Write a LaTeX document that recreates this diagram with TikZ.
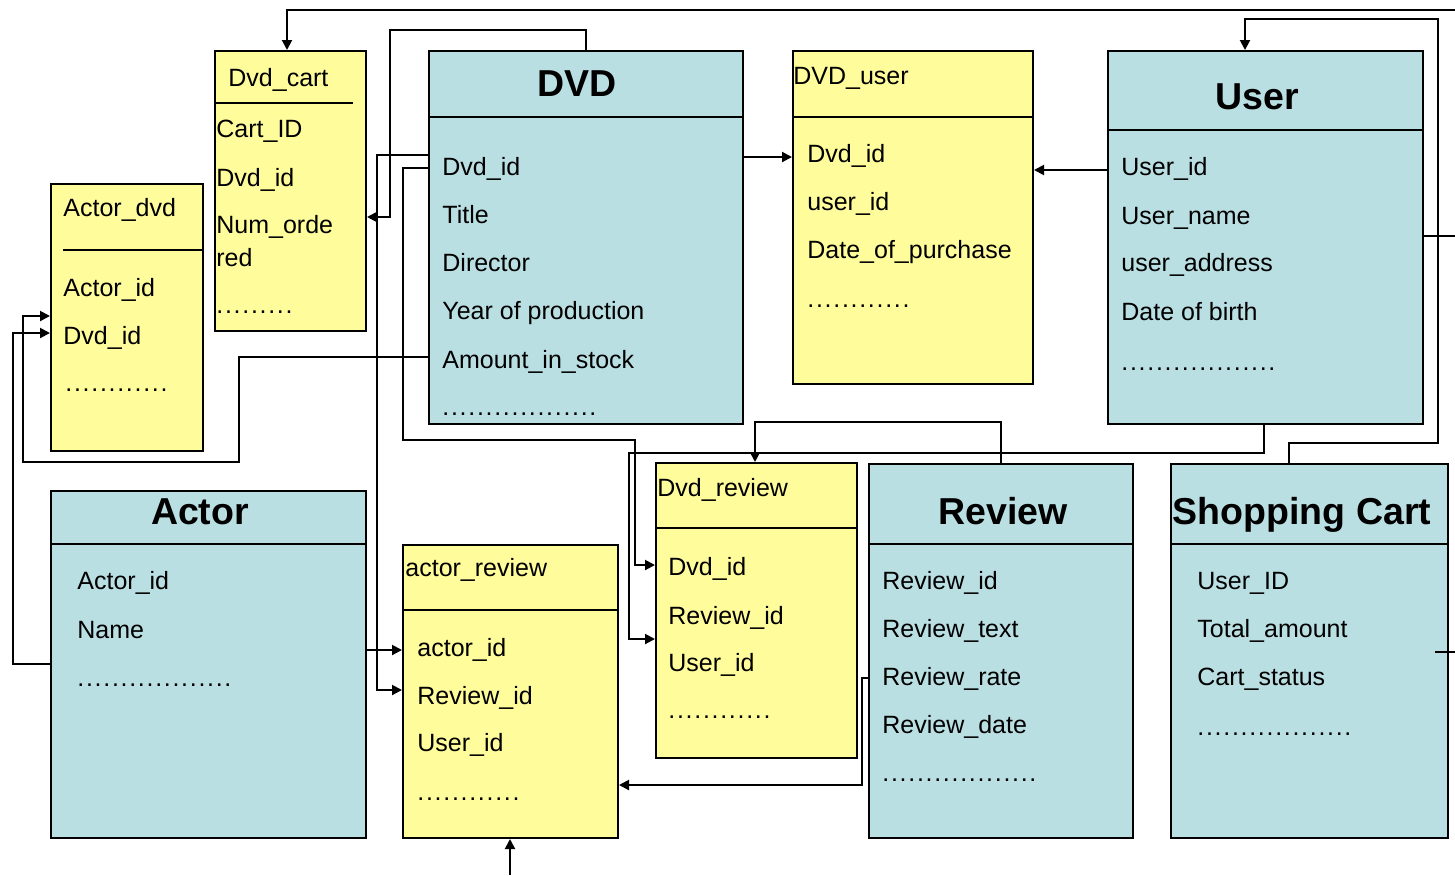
\documentclass[tikz,border=0pt]{standalone}
\usepackage{fontspec}
\setmainfont{Liberation Sans}
\usetikzlibrary{arrows.meta}
\definecolor{tabblue}{RGB}{186,223,227}
\definecolor{tabyellow}{RGB}{255,253,155}
\newcommand{\mydots}[1]{\foreach \i in {1,...,#1}{.\kern0.85pt}} % строка точек

\begin{document}
\begin{tikzpicture}[x=0.5pt,y=-0.5pt] % 1 единица = 1 пиксель, ось y вниз
\tikzstyle{mytab} = [draw, line width=1pt, anchor=north west, inner sep=0pt] % рамка таблицы
\tikzstyle{mytitle} = [anchor=base, inner sep=0pt, font=\fontsize{18.75}{20}\selectfont\bfseries] % жирный заголовок
\tikzstyle{myrow} = [anchor=base west, inner sep=0pt, font=\fontsize{12.5}{14}\selectfont] % поле таблицы
\tikzstyle{myline} = [line width=1pt] % header divider
\tikzstyle{mylink} = [line width=1pt, -{Triangle[length=5pt,width=5pt]}] % связь со стрелкой
\useasboundingbox[fill=white] (0,0) rectangle (1455,875);

% Actor_dvd
\node[mytab, fill=tabyellow, minimum width=76pt, minimum height=133.5pt] (actdvd) at (50,183) {};
\draw[myline] (63,250) -- (actdvd.east |- 0,250);
\node[myrow] (actdvdT) at (63,216) {Actor\_dvd};
\node[myrow] (actdvd1) at (63,296) {Actor\_id};
\node[myrow] (actdvd2) at (63,344) {Dvd\_id};
\node[myrow] (actdvd3) at (65,391) {\mydots{12}};

% Dvd_cart
\node[mytab, fill=tabyellow, minimum width=75.5pt, minimum height=140pt] (dvdcart) at (214,50) {};
\draw[myline] (dvdcart.west |- 0,103) -- (353,103);
\node[myrow] (dvdcartT) at (228,86) {Dvd\_cart};
\node[myrow] (dvdcart1) at (216,137) {Cart\_ID};
\node[myrow] (dvdcart2) at (216,186) {Dvd\_id};
\node[myrow] (dvdcart3) at (216,233) {Num\_orde};
\node[myrow] (dvdcart4) at (216,266) {red};
\node[myrow] (dvdcart5) at (216,313) {\mydots{9}};

% DVD
\node[mytab, fill=tabblue, minimum width=157pt, minimum height=186.5pt] (dvd) at (428,50) {};
\draw[myline] (dvd.west |- 0,117) -- (dvd.east |- 0,117);
\node[mytitle] (dvdT) at (577,96) {DVD};
\node[myrow] (dvd1) at (442,175) {Dvd\_id};
\node[myrow] (dvd2) at (442,223) {Title};
\node[myrow] (dvd3) at (442,271) {Director};
\node[myrow] (dvd4) at (442,319) {Year of production};
\node[myrow] (dvd5) at (442,368) {Amount\_in\_stock};
\node[myrow] (dvd6) at (442,415) {\mydots{18}};

% DVD_user
\node[mytab, fill=tabyellow, minimum width=120pt, minimum height=166.5pt] (dvduser) at (792,50) {};
\draw[myline] (dvduser.west |- 0,117) -- (dvduser.east |- 0,117);
\node[myrow] (dvduserT) at (793,84) {DVD\_user};
\node[myrow] (dvduser1) at (807,162) {Dvd\_id};
\node[myrow] (dvduser2) at (807,210) {user\_id};
\node[myrow] (dvduser3) at (807,258) {Date\_of\_purchase};
\node[myrow] (dvduser4) at (807,307) {\mydots{12}};

% User
\node[mytab, fill=tabblue, minimum width=157.5pt, minimum height=186.5pt] (user) at (1107,50) {};
\draw[myline] (user.west |- 0,130) -- (user.east |- 0,130);
\node[mytitle] (userT) at (1257,109) {User};
\node[myrow] (user1) at (1121,175) {User\_id};
\node[myrow] (user2) at (1121,224) {User\_name};
\node[myrow] (user3) at (1121,271) {user\_address};
\node[myrow] (user4) at (1121,320) {Date of birth};
\node[myrow] (user5) at (1121,370) {\mydots{18}};

% Actor
\node[mytab, fill=tabblue, minimum width=157.5pt, minimum height=173.5pt] (actor) at (50,490) {};
\draw[myline] (actor.west |- 0,544) -- (actor.east |- 0,544);
\node[mytitle] (actorT) at (200,524) {Actor};
\node[myrow] (actor1) at (77,589) {Actor\_id};
\node[myrow] (actor2) at (77,638) {Name};
\node[myrow] (actor3) at (77,686) {\mydots{18}};

% actor_review
\node[mytab, fill=tabyellow, minimum width=107.5pt, minimum height=146.5pt] (actrev) at (402,544) {};
\draw[myline] (actrev.west |- 0,610) -- (actrev.east |- 0,610);
\node[myrow] (actrevT) at (405,576) {actor\_review};
\node[myrow] (actrev1) at (417,656) {actor\_id};
\node[myrow] (actrev2) at (417,704) {Review\_id};
\node[myrow] (actrev3) at (417,751) {User\_id};
\node[myrow] (actrev4) at (417,800) {\mydots{12}};

% Dvd_review
\node[mytab, fill=tabyellow, minimum width=100.5pt, minimum height=147.5pt] (dvdrev) at (655,462) {};
\draw[myline] (dvdrev.west |- 0,528) -- (dvdrev.east |- 0,528);
\node[myrow] (dvdrevT) at (657,496) {Dvd\_review};
\node[myrow] (dvdrev1) at (668,575) {Dvd\_id};
\node[myrow] (dvdrev2) at (668,624) {Review\_id};
\node[myrow] (dvdrev3) at (668,671) {User\_id};
\node[myrow] (dvdrev4) at (668,718) {\mydots{12}};

% Review
\node[mytab, fill=tabblue, minimum width=132pt, minimum height=187pt] (review) at (868,463) {};
\draw[myline] (review.west |- 0,544) -- (review.east |- 0,544);
\node[mytitle] (reviewT) at (1003,524) {Review};
\node[myrow] (review1) at (882,589) {Review\_id};
\node[myrow] (review2) at (882,637) {Review\_text};
\node[myrow] (review3) at (882,685) {Review\_rate};
\node[myrow] (review4) at (882,733) {Review\_date};
\node[myrow] (review5) at (882,781) {\mydots{18}};

% Shopping Cart
\node[mytab, fill=tabblue, minimum width=138.5pt, minimum height=187pt] (shop) at (1170,463) {};
\draw[myline] (shop.west |- 0,544) -- (shop.east |- 0,544);
\node[mytitle] (shopT) at (1302,524) {Shopping Cart};
\node[myrow] (shop1) at (1197,589) {User\_ID};
\node[myrow] (shop2) at (1197,637) {Total\_amount};
\node[myrow] (shop3) at (1197,685) {Cart\_status};
\node[myrow] (shop4) at (1197,735) {\mydots{18}};

% свободные концы у края рисунка
\coordinate (edgeTop) at (1455,10);
\coordinate (edgeUser) at (1455,236);
\coordinate (edgeShop) at (1455,652);
\coordinate (edgeBot) at (510,875);

% связи
\draw[mylink] (edgeTop) -| (dvdcart.north -| 287,0);
\draw[mylink] (dvd.north) |- (390,30) |- (dvdcart.east |- 0,217);
\draw[mylink] (dvd.west |- 0,155) -| (377,690) -- (actrev.west |- 0,690);
\draw[mylink] (dvd.west |- 0,168) -| (403,440) -| (635,565) -- (dvdrev.west |- 0,565);
\draw[mylink] (user.south -| 1264,0) |- (629,453) |- (dvdrev.west |- 0,639);
\draw[mylink] (review.north) |- (755,422) -- (dvdrev.north -| 755,0);
\draw[mylink] (dvd.east |- 0,157) -- (dvduser.west |- 0,157);
\draw[mylink] (user.west |- 0,170) -- (dvduser.east |- 0,170);
\draw[mylink] (shop.north -| 1289,0) |- (1438,443) |- (1245,19) -- (user.north -| 1245,0);
\draw[myline] (user.east |- edgeUser) -- (edgeUser);
\draw[myline] ([xshift=-7pt]shop.east |- edgeShop) -- (edgeShop);
\draw[mylink] (review.west |- 0,678) -- (862,678) |- (actrev.east |- 0,785);
\draw[mylink] (actor.east |- 0,650) -- (actrev.west |- 0,650);
\draw[mylink] (edgeBot) -- (actrev.south -| edgeBot);
\draw[mylink] (dvd.west |- 0,357) -| (239,462) -| (23,316) -- (actdvd.west |- 0,316);
\draw[mylink] (actor.west |- 0,664) -| (13,333) -- (actdvd.west |- 0,333);
\end{tikzpicture}
\end{document}
